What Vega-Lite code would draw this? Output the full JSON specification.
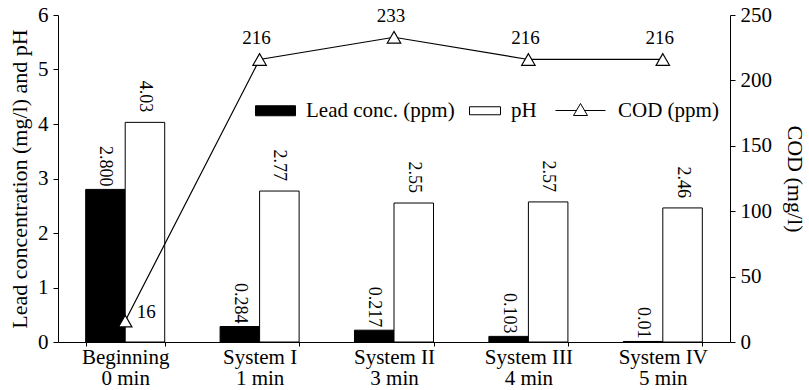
{
  "$schema": "https://vega.github.io/schema/vega-lite/v6.json",
  "width": 672,
  "height": 327,
  "autosize": {"type": "none"},
  "padding": {"left": 58, "top": 15, "right": 79, "bottom": 48},
  "background": "white",
  "config": {
    "font": "Liberation Serif",
    "view": {"stroke": null},
    "axis": {
      "domainColor": "black", "domainWidth": 1,
      "tickColor": "black", "tickWidth": 1,
      "labelColor": "black", "titleColor": "black",
      "labelFont": "Liberation Serif", "titleFont": "Liberation Serif",
      "labelFontSize": 21, "titleFontSize": 22, "titleFontWeight": "normal",
      "grid": false
    },
    "legend": {
      "labelFont": "Liberation Serif", "labelFontSize": 21, "labelColor": "black",
      "padding": 0, "labelOffset": 10, "symbolSize": 1600,
      "symbolStrokeColor": "black", "symbolStrokeWidth": 1
    }
  },
  "datasets": {
    "bars": [
      {"cat": "Beginning|0 min", "series": "Lead conc. (ppm)", "value": 2.8, "label": "2.800"},
      {"cat": "Beginning|0 min", "series": "pH", "value": 4.03, "label": "4.03"},
      {"cat": "System I|1 min", "series": "Lead conc. (ppm)", "value": 0.284, "label": "0.284"},
      {"cat": "System I|1 min", "series": "pH", "value": 2.77, "label": "2.77"},
      {"cat": "System II|3 min", "series": "Lead conc. (ppm)", "value": 0.217, "label": "0.217"},
      {"cat": "System II|3 min", "series": "pH", "value": 2.55, "label": "2.55"},
      {"cat": "System III|4 min", "series": "Lead conc. (ppm)", "value": 0.103, "label": "0.103"},
      {"cat": "System III|4 min", "series": "pH", "value": 2.57, "label": "2.57"},
      {"cat": "System IV|5 min", "series": "Lead conc. (ppm)", "value": 0.01, "label": "0.01"},
      {"cat": "System IV|5 min", "series": "pH", "value": 2.46, "label": "2.46"}
    ],
    "cod": [
      {"cat": "Beginning|0 min", "cod": 16},
      {"cat": "System I|1 min", "cod": 216},
      {"cat": "System II|3 min", "cod": 233},
      {"cat": "System III|4 min", "cod": 216},
      {"cat": "System IV|5 min", "cod": 216}
    ]
  },
  "encoding": {
    "x": {
      "field": "cat", "type": "nominal",
      "sort": ["Beginning|0 min", "System I|1 min", "System II|3 min", "System III|4 min", "System IV|5 min"],
      "scale": {"paddingInner": 0.412, "paddingOuter": 0.206},
      "axis": {
        "title": null, "labelAngle": 0, "labelExpr": "datum.value ? split(datum.value, '|') : ''",
        "labelLineHeight": 21, "labelPadding": 0, "tickSize": 4, "tickBand": "extent",
        "labelBaseline": "top"
      }
    }
  },
  "layer": [
    {
      "data": {"name": "bars"},
      "encoding": {
        "xOffset": {"field": "series", "type": "nominal", "scale": {"domain": ["Lead conc. (ppm)", "pH"], "paddingInner": 0, "paddingOuter": 0}},
        "y": {
          "field": "value", "type": "quantitative",
          "scale": {"domain": [0, 6], "nice": false},
          "axis": {
            "title": "Lead concentration (mg/l) and pH", "values": [0, 1, 2, 3, 4, 5, 6], "format": "d",
            "tickSize": 5, "labelPadding": 5, "titlePadding": 6
          }
        }
      },
      "layer": [
        {
          "mark": {"type": "bar", "stroke": "black", "strokeWidth": 1},
          "encoding": {
            "fill": {
              "field": "series", "type": "nominal",
              "scale": {"domain": ["Lead conc. (ppm)", "pH"], "range": ["black", "white"]},
              "legend": {
                "orient": "none", "legendX": 197, "legendY": 75, "direction": "horizontal",
                "title": null, "columnPadding": 5,
                "encode": {
                  "symbols": {
                    "update": {
                      "shape": [
                        {"test": "datum.value == 'pH'", "value": "M-0.55,-0.2H1V0.2H-0.55Z"},
                        {"value": "M-1,-0.25H1V0.25H-1Z"}
                      ],
                      "stroke": {"value": "black"},
                      "strokeWidth": {"value": 1}
                    }
                  }
                }
              }
            }
          }
        },
        {
          "transform": [{"filter": "datum.series == 'Lead conc. (ppm)'"}],
          "mark": {"type": "text", "angle": 90, "align": "right", "baseline": "middle", "dx": -3, "fontSize": 18, "font": "Liberation Serif", "color": "black"},
          "encoding": {"text": {"field": "label"}}
        },
        {
          "transform": [{"filter": "datum.series == 'pH'"}],
          "mark": {"type": "text", "angle": 90, "align": "right", "baseline": "middle", "dx": -10, "fontSize": 18, "font": "Liberation Serif", "color": "black"},
          "encoding": {"text": {"field": "label"}}
        }
      ]
    },
    {
      "data": {"name": "cod"},
      "encoding": {
        "y": {
          "field": "cod", "type": "quantitative",
          "scale": {"domain": [0, 250], "nice": false},
          "axis": {
            "orient": "right", "title": "COD (mg/l)", "values": [0, 50, 100, 150, 200, 250],
            "tickSize": 5, "labelPadding": 5, "titlePadding": 11
          }
        }
      },
      "layer": [
        {
          "mark": {"type": "line", "strokeWidth": 1.2},
          "encoding": {
            "stroke": {
              "datum": "COD (ppm)",
              "scale": {"domain": ["COD (ppm)"], "range": ["black"]},
              "legend": {
                "orient": "none", "legendX": 509, "legendY": 75, "direction": "horizontal",
                "title": null,
                "symbolType": "M-1.6,0H-0.55M-0.15,0H0.9M-0.35,-0.35L0,0.25H-0.7Z",
                "symbolFillColor": "white",
                "encode": {
                  "symbols": {
                    "update": {
                      "shape": {"value": "M-1.6,0H-0.55M-0.15,0H0.9M-0.35,-0.35L0,0.25H-0.7Z"},
                      "fill": {"value": "white"},
                      "fillOpacity": {"value": 1},
                      "stroke": {"value": "black"},
                      "strokeWidth": {"value": 1}
                    }
                  }
                }
              }
            }
          }
        },
        {"mark": {"type": "point", "shape": "triangle-up", "filled": true, "fill": "white", "stroke": "black", "strokeWidth": 1.2, "size": 180, "opacity": 1}},
        {
          "transform": [{"filter": "datum.cod < 100"}],
          "mark": {"type": "text", "dx": 21, "dy": -9, "fontSize": 19, "font": "Liberation Serif", "color": "black"},
          "encoding": {"text": {"field": "cod"}}
        },
        {
          "transform": [{"filter": "datum.cod >= 100"}],
          "mark": {"type": "text", "dx": -3, "dy": -21, "fontSize": 19, "font": "Liberation Serif", "color": "black"},
          "encoding": {"text": {"field": "cod"}}
        }
      ]
    }
  ],
  "resolve": {"scale": {"y": "independent"}}
}
